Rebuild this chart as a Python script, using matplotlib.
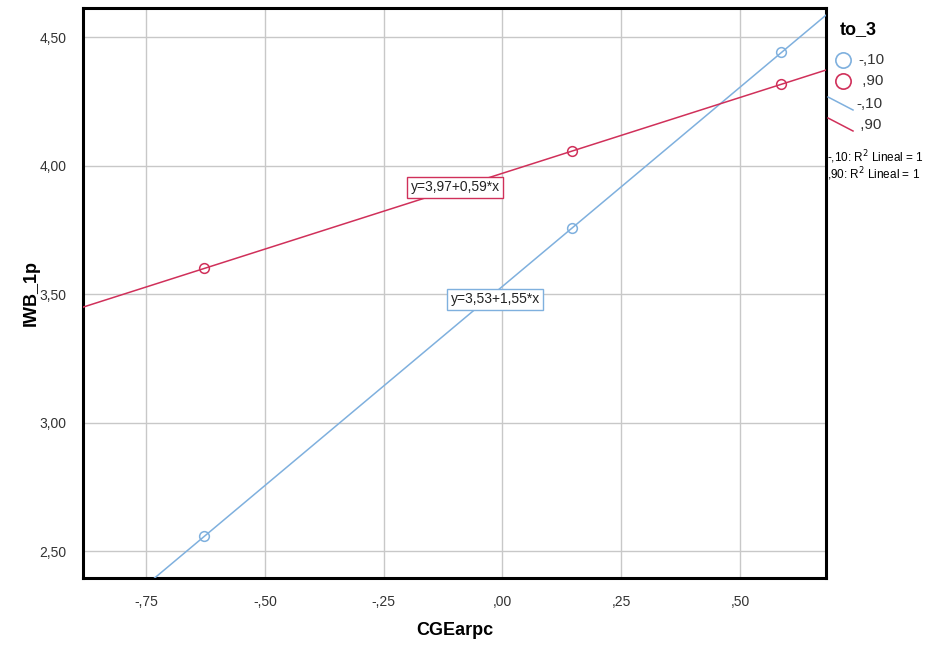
import numpy as np
from matplotlib import pyplot as plt
from matplotlib.lines import Line2D
from matplotlib.ticker import FuncFormatter

# data
x_pts = [-0.628, 0.147, 0.587]
y_low = [2.557, 3.758, 4.44]     # to_3 = -,10
y_high = [3.60, 4.057, 4.316]    # to_3 = ,90
intercepts = [3.53, 3.97]
slopes = [1.55, 0.59]
groups = ['-,10', ',90']
eq_labels = ['y=3,53+1,55*x', 'y=3,97+0,59*x']
eq_pos = [(-0.015, 3.48), (-0.10, 3.915)]
x_ticks = [-0.75, -0.50, -0.25, 0.0, 0.25, 0.50]
y_ticks = [2.5, 3.0, 3.5, 4.0, 4.5]

blue = '#7fb0de'
red = '#d0305a'
colors = [blue, red]

plt.rcParams['font.family'] = ['Liberation Sans', 'DejaVu Sans']


def spss_fmt(v, pos=None):
    s = '%.2f' % v
    s = s.replace('.', ',')
    if s.startswith('0,'):
        s = s[1:]
    elif s.startswith('-0,'):
        s = '-' + s[2:]
    return s


def plotter():
    fig = plt.figure(figsize=(9.42, 6.48), dpi=100)
    ax = fig.add_axes([0.0881, 0.108, 0.7888, 0.8796])

    xmin, xmax = -0.883, 0.681
    ax.set_xlim(xmin, xmax)
    ax.set_ylim(2.395, 4.613)

    ax.set_xticks(x_ticks)
    ax.set_yticks(y_ticks)
    ax.xaxis.set_major_formatter(FuncFormatter(spss_fmt))
    ax.yaxis.set_major_formatter(FuncFormatter(spss_fmt))
    ax.tick_params(length=0, labelsize=10, labelcolor='#333333', pad=12)
    ax.grid(True, color='#c8c8c8', linewidth=1)
    ax.set_axisbelow(True)
    for sp in ax.spines.values():
        sp.set_linewidth(2.2)
        sp.set_color('black')

    xs = np.array([xmin, xmax])
    for ys, b0, b1, c in zip([y_low, y_high], intercepts, slopes, colors):
        ax.plot(xs, b0 + b1 * xs, color=c, linewidth=1.1, zorder=3)
        ax.plot(x_pts, ys, 'o', mfc='none', mec=c, ms=7, mew=1.1, zorder=4)

    for lab, (ex, ey), c in zip(eq_labels, eq_pos, colors):
        ax.text(ex, ey, lab, fontsize=10, color='#222222', ha='center', va='center', zorder=5,
                bbox=dict(boxstyle='square,pad=0.25', fc='white', ec=c, lw=1))

    ax.set_xlabel('CGEarpc', fontsize=13, fontweight='bold')
    ax.set_ylabel('IWB_1p', fontsize=13, fontweight='bold')
    ax.xaxis.set_label_coords(0.5, -0.077)
    ax.yaxis.set_label_coords(-0.058, 0.5)

    # legend drawn to the right
    W, H = 942.0, 648.0
    fig.text(840 / W, 1 - 30 / H, 'to_3', fontsize=13, fontweight='bold', va='center')
    for i, (g, c) in enumerate(zip(groups, colors)):
        yy = 1 - (60 + 21 * i) / H
        fig.add_artist(Line2D([843 / W], [yy], marker='o', mfc='none', mec=c, ms=11, mew=1.2))
        fig.text(858 / W, yy, g if i == 0 else ' ' + g, fontsize=11, va='center', color='#333333')
    for i, (g, c) in enumerate(zip(groups, colors)):
        y0 = 1 - (97 + 21 * i) / H
        y1 = 1 - (110 + 21 * i) / H
        fig.add_artist(Line2D([828 / W, 853 / W], [y0, y1], color=c, lw=1.1))
        fig.text(856 / W, 1 - (104 + 21 * i) / H, g if i == 0 else ' ' + g,
                 fontsize=11, va='center', color='#333333')
    fig.text(827 / W, 1 - 157 / H, '-,10: R$^2$ Lineal = 1', fontsize=8.5, va='center', zorder=10)
    fig.text(827 / W, 1 - 174 / H, ',90: R$^2$ Lineal = 1', fontsize=8.5, va='center', zorder=10)

    fig.savefig('out.png', dpi=100)


if __name__ == '__main__':
    plotter()
